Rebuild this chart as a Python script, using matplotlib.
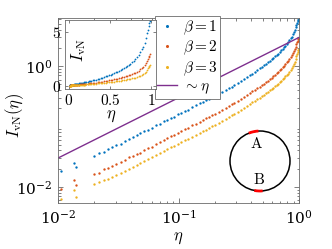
import numpy as np
import matplotlib
matplotlib.use('Agg')
import matplotlib.pyplot as plt
from matplotlib.patches import Circle, Arc
from matplotlib.ticker import LogLocator, NullFormatter

plt.rcParams['mathtext.fontset'] = 'cm'
plt.rcParams['font.family'] = 'serif'
plt.rcParams['font.serif'] = ['DejaVu Serif']

# cross ratio eta (shared by all three series)
eta = [0.0105, 0.0136, 0.0141,
       0.020, 0.022, 0.024, 0.026, 0.028, 0.030, 0.033, 0.036, 0.039, 0.042,
       0.045, 0.048, 0.052, 0.056, 0.060, 0.065, 0.070, 0.075, 0.080, 0.086,
       0.092, 0.098, 0.105, 0.112, 0.120, 0.130, 0.140, 0.150, 0.160, 0.170,
       0.180, 0.190, 0.200, 0.215, 0.230, 0.245, 0.260, 0.275, 0.290, 0.310,
       0.330, 0.350, 0.370, 0.390, 0.410, 0.430, 0.450, 0.470, 0.490, 0.510,
       0.530, 0.550, 0.570, 0.590, 0.610, 0.630, 0.650, 0.670, 0.690, 0.710,
       0.730, 0.750, 0.770, 0.790, 0.810, 0.830, 0.850, 0.870, 0.890, 0.905,
       0.920, 0.935, 0.950, 0.960, 0.970, 0.980, 0.990]

ivn_beta1 = [0.018, 0.0244, 0.0214,
             0.033, 0.036, 0.038, 0.043, 0.045, 0.049, 0.052, 0.058, 0.062, 0.067,
             0.071, 0.077, 0.083, 0.089, 0.095, 0.105, 0.111, 0.121, 0.128, 0.139,
             0.146, 0.158, 0.167, 0.180, 0.191, 0.209, 0.223, 0.242, 0.255, 0.274,
             0.289, 0.305, 0.325, 0.348, 0.374, 0.400, 0.427, 0.455, 0.485, 0.523,
             0.566, 0.609, 0.656, 0.703, 0.755, 0.805, 0.862, 0.915, 0.97, 1.03,
             1.09, 1.16, 1.23, 1.30, 1.37, 1.45, 1.53, 1.62, 1.72, 1.82,
             1.93, 2.05, 2.18, 2.33, 2.50, 2.68, 2.88, 3.10, 3.36, 3.62,
             4.00, 4.40, 4.85, 5.20, 5.50, 5.80, 6.00]

ivn_beta2 = [0.0091, 0.0128, 0.0109,
             0.0165, 0.0172, 0.0196, 0.0208, 0.0224, 0.0236, 0.0262, 0.0275, 0.0308, 0.0322,
             0.0355, 0.0368, 0.0405, 0.0440, 0.0462, 0.0515, 0.0545, 0.0600, 0.0632, 0.0700,
             0.0725, 0.0790, 0.0835, 0.0900, 0.0945, 0.104, 0.110, 0.120, 0.127, 0.136,
             0.144, 0.155, 0.164, 0.176, 0.191, 0.205, 0.219, 0.234, 0.249, 0.268,
             0.289, 0.310, 0.332, 0.355, 0.380, 0.404, 0.430, 0.457, 0.485, 0.512,
             0.545, 0.575, 0.610, 0.642, 0.680, 0.718, 0.760, 0.802, 0.850, 0.900,
             0.955, 1.01, 1.08, 1.15, 1.22, 1.31, 1.40, 1.51, 1.64, 1.76,
             1.91, 2.08, 2.30, 2.48, 2.64, 2.78, 2.90]

ivn_beta3 = [0.0062, 0.0087, 0.0069,
             0.0112, 0.0118, 0.0128, 0.0136, 0.0146, 0.0155, 0.0170, 0.0182, 0.0198, 0.0210,
             0.0232, 0.0244, 0.0268, 0.0290, 0.0310, 0.0338, 0.0365, 0.0396, 0.0420, 0.0460,
             0.0478, 0.0520, 0.0545, 0.0590, 0.0625, 0.0670, 0.0725, 0.0775, 0.0830, 0.0885,
             0.0940, 0.1000, 0.106, 0.115, 0.124, 0.134, 0.143, 0.153, 0.163, 0.176,
             0.190, 0.204, 0.219, 0.234, 0.250, 0.266, 0.283, 0.300, 0.318, 0.336,
             0.355, 0.375, 0.396, 0.418, 0.440, 0.462, 0.488, 0.514, 0.542, 0.572,
             0.605, 0.640, 0.678, 0.705, 0.745, 0.795, 0.855, 0.925, 1.02, 1.09,
             1.17, 1.29, 1.46, 1.60, 1.73, 1.83, 1.90]

# reference line ~ eta
eta_line = [0.01, 1.0]
ivn_line = [0.03, 3.0]

series = [(ivn_beta1, '#0072BD', r'$\beta=1$'),
          (ivn_beta2, '#D95319', r'$\beta=2$'),
          (ivn_beta3, '#EDB120', r'$\beta=3$')]
purple = '#7E2F8E'
frame = '#6a6a6a'

fig = plt.figure(figsize=(3.32, 2.49), dpi=100)

# main log-log axes
ax = fig.add_axes([0.175, 0.185, 0.726, 0.743])
for vals, c, lab in series:
    ax.plot(eta, vals, '.', ms=3.4, mew=0, color=c, label=lab)
ax.plot(eta_line, ivn_line, color=purple, lw=1.0, label=r'$\sim\eta$')
ax.set_xscale('log')
ax.set_yscale('log')
ax.set_xlim(1e-2, 1)
ax.set_ylim(5.4e-3, 6.3)
ax.set_xticks([1e-2, 1e-1, 1])
ax.set_yticks([1e-2, 1])
ax.xaxis.set_minor_locator(LogLocator(subs=np.arange(2, 10), numticks=20))
ax.yaxis.set_minor_locator(LogLocator(subs=np.arange(2, 10), numticks=20))
ax.xaxis.set_minor_formatter(NullFormatter())
ax.yaxis.set_minor_formatter(NullFormatter())
ax.tick_params(which='both', direction='in', top=True, right=True,
               labelsize=11, color=frame, width=0.6)
ax.tick_params(which='major', length=3.5, pad=4)
ax.tick_params(which='minor', length=1.8)
for s in ax.spines.values():
    s.set_color(frame)
    s.set_linewidth(0.6)
ax.set_xlabel(r'$\eta$', fontsize=12, labelpad=2)
ax.set_ylabel(r'$I_{\rm vN}(\eta)$', fontsize=12)
ax.yaxis.set_label_coords(-0.135, 0.47)

leg = ax.legend(loc='upper left', bbox_to_anchor=(155 / 332, 1 - 16.5 / 249),
                bbox_transform=fig.transFigure, fontsize=11, fancybox=False,
                framealpha=1, edgecolor=frame, borderpad=0.15, labelspacing=0.12,
                handlelength=1.3, handletextpad=0.4, markerscale=1.3,
                borderaxespad=0)
leg.get_frame().set_linewidth(0.6)

# inset with linear axes
axi = fig.add_axes([0.197, 0.643, 0.273, 0.277])
for vals, c, lab in series:
    axi.plot(eta, vals, '.', ms=2.6, mew=0, color=c)
axi.set_xlim(-0.04, 1.06)
axi.set_ylim(-0.3, 6.1)
axi.set_xticks([0, 0.5, 1])
axi.set_xticklabels([r'$0$', r'$0.5$', r'$1$'])
axi.set_yticks([0, 5])
axi.set_yticklabels([r'$0$', r'$5$'])
axi.tick_params(direction='in', top=True, right=True, labelsize=11,
                length=2.5, color=frame, width=0.6, pad=3)
for s in axi.spines.values():
    s.set_color(frame)
    s.set_linewidth(0.6)
axi.set_xlabel(r'$\eta$', fontsize=12, labelpad=-1)
axi.text(0.15, 0.56, r'$I_{\rm vN}$', rotation=90, fontsize=12,
         transform=axi.transAxes, ha='center', va='center')

# sketch of the circle with the two intervals A and B
axc = fig.add_axes([225 / 332, 53 / 249, 70 / 332, 70 / 249])
axc.set_xlim(-1.1667, 1.1667)
axc.set_ylim(-1.1667, 1.1667)
axc.set_aspect('equal')
axc.axis('off')
axc.add_patch(Circle((0, 0), 1, fill=False, color='black', lw=1.1))
axc.add_patch(Arc((0, 0), 2, 2, theta1=93, theta2=112, color='red', lw=2.0))
axc.add_patch(Arc((0, 0), 2, 2, theta1=259, theta2=275, color='red', lw=2.0))
axc.text(-0.11, 0.6, r'$\mathrm{A}$', fontsize=11, ha='center', va='center')
axc.text(-0.04, -0.62, r'$\mathrm{B}$', fontsize=11, ha='center', va='center')

fig.savefig('out.png', dpi=100)
